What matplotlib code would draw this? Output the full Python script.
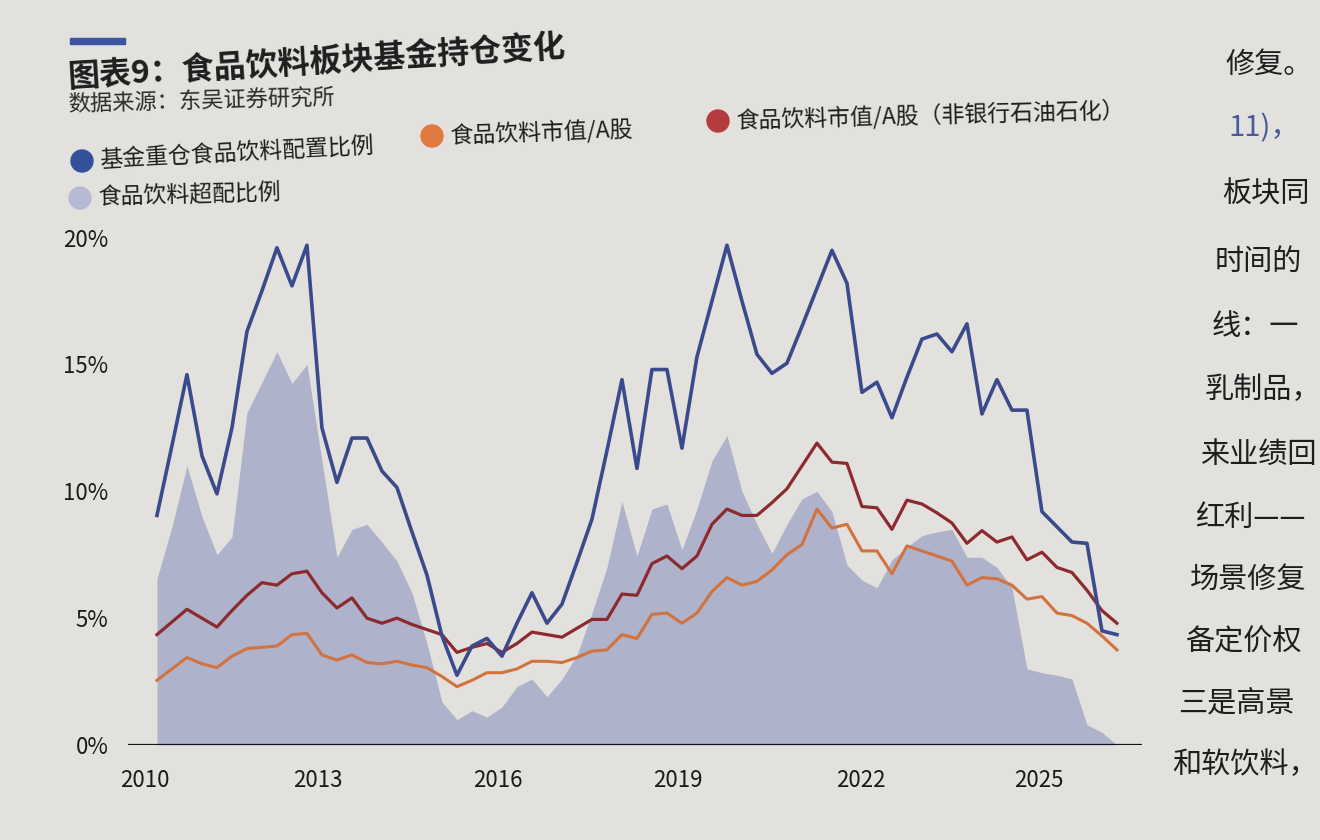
import numpy as np
import matplotlib.pyplot as plt
from matplotlib.patches import Circle, Rectangle

plt.rcParams['font.family'] = ['Noto Sans CJK SC', 'DejaVu Sans']

# quarterly observations (index 0 = first quarter shown)
fund_weight = [9.05, 11.8, 14.6, 11.4, 9.9, 12.5, 16.3, 17.9, 19.6, 18.1,
               19.7, 12.5, 10.35, 12.1, 12.1, 10.8, 10.15, 8.4, 6.7, 4.3,
               2.75, 3.9, 4.2, 3.5, 4.8, 6.0, 4.8, 5.55, 7.2, 8.9,
               11.6, 14.4, 10.9, 14.8, 14.8, 11.7, 15.3, 17.5, 19.7, 17.5,
               15.4, 14.65, 15.05, 16.5, 18.0, 19.5, 18.2, 13.9, 14.3, 12.9,
               14.5, 16.0, 16.2, 15.5, 16.6, 13.05, 14.4, 13.2, 13.2, 9.2,
               8.6, 8.0, 7.95, 4.5, 4.35]
mktcap_a = [2.55, 3.0, 3.45, 3.2, 3.05, 3.5, 3.8, 3.85, 3.9, 4.35,
            4.4, 3.55, 3.35, 3.55, 3.25, 3.2, 3.3, 3.15, 3.05, 2.7,
            2.3, 2.55, 2.85, 2.85, 3.0, 3.3, 3.3, 3.25, 3.45, 3.7,
            3.75, 4.35, 4.2, 5.15, 5.2, 4.8, 5.2, 6.05, 6.6, 6.3,
            6.45, 6.9, 7.5, 7.9, 9.3, 8.55, 8.7, 7.65, 7.65, 6.75,
            7.85, 7.65, 7.45, 7.25, 6.3, 6.6, 6.55, 6.3, 5.75, 5.85,
            5.2, 5.1, 4.8, 4.3, 3.75]
mktcap_ex = [4.35, 4.85, 5.35, 5.0, 4.65, 5.3, 5.9, 6.4, 6.3, 6.75,
             6.85, 6.0, 5.4, 5.8, 5.0, 4.8, 5.0, 4.75, 4.55, 4.35,
             3.65, 3.85, 4.0, 3.65, 4.0, 4.45, 4.35, 4.25, 4.6, 4.95,
             4.95, 5.95, 5.9, 7.15, 7.45, 6.95, 7.45, 8.7, 9.3, 9.05,
             9.05, 9.55, 10.1, 11.0, 11.9, 11.15, 11.1, 9.4, 9.35, 8.5,
             9.65, 9.5, 9.15, 8.75, 7.95, 8.45, 8.0, 8.2, 7.3, 7.6,
             7.0, 6.8, 6.1, 5.3, 4.8]
overweight = [6.55, 8.6, 11.0, 9.0, 7.5, 8.2, 13.1, 14.3, 15.5, 14.25,
              15.0, 11.2, 7.4, 8.5, 8.7, 8.0, 7.25, 6.0, 4.0, 1.7,
              1.0, 1.35, 1.1, 1.5, 2.3, 2.6, 1.9, 2.6, 3.55, 5.2,
              7.0, 9.6, 7.45, 9.3, 9.5, 7.7, 9.3, 11.2, 12.2, 10.0,
              8.7, 7.55, 8.7, 9.7, 10.0, 9.2, 7.1, 6.5, 6.2, 7.3,
              7.8, 8.25, 8.4, 8.5, 7.4, 7.4, 7.0, 6.2, 3.0, 2.85,
              2.75, 2.6, 0.8, 0.5, 0.0]

year_labels = ['2010', '2013', '2016', '2019', '2022', '2025']
year_pos = [-0.8, 10.7, 22.7, 34.7, 46.9, 58.8]
y_ticks = [0, 5, 10, 15, 20]

series_names = ['基金重仓食品饮料配置比例', '食品饮料市值/A股',
                '食品饮料市值/A股（非银行石油石化）', '食品饮料超配比例']

paper = '#e3e1dd'
c_blue = '#3b4a8c'
c_orange = '#d2733f'
c_red = '#8c2a2e'
c_fill = '#afb2cb'

fig = plt.figure(figsize=(13.2, 8.4), dpi=100)
fig.patch.set_facecolor(paper)
ax = fig.add_axes([128 / 1320, 1 - 745 / 840, (1142 - 128) / 1320, 515 / 840])
ax.set_facecolor('none')

x = np.arange(len(fund_weight))
ax.fill_between(x, overweight, 0, color=c_fill, lw=0, zorder=1)
ax.plot(x, mktcap_a, color=c_orange, lw=2.2, zorder=3)
ax.plot(x, mktcap_ex, color=c_red, lw=2.3, zorder=3)
ax.plot(x, fund_weight, color=c_blue, lw=2.6, zorder=4)
ax.axhline(0, color='#151515', lw=1.6, zorder=5)

ax.set_xlim(-1.93, 65.67)
ax.set_ylim(0, 20.3)
ax.set_xticks(year_pos)
ax.set_xticklabels(year_labels)
ax.set_yticks(y_ticks)
ax.set_yticklabels([f'{v}%' for v in y_ticks])
ax.tick_params(length=0, labelsize=16, colors='#1a1a1a')
ax.tick_params(axis='x', pad=17)
ax.tick_params(axis='y', pad=14)
for s in ax.spines.values():
    s.set_visible(False)

# header: accent bar, title, source
fig.patches.append(Rectangle((70 / 1320, 1 - 44 / 840), 55 / 1320, 6 / 840,
                             transform=fig.transFigure, color='#3d55a0'))
fig.text(68 / 1320, 1 - 78 / 840, '图表9：食品饮料板块基金持仓变化', fontsize=23,
         fontweight='bold', color='#1e1e1e', va='center', rotation=3.5,
         rotation_mode='anchor')
fig.text(68 / 1320, 1 - 105 / 840, '数据来源：东吴证券研究所', fontsize=16,
         color='#2a2a2a', va='center', rotation=1.5, rotation_mode='anchor')

# legend
legend_items = [
    (82, 161, 100, series_names[0], '#35509a', 3.0),
    (432, 136, 450, series_names[1], '#e0783f', 2.0),
    (718, 121, 736, series_names[2], '#b43c3c', 1.5),
    (80, 198, 98, series_names[3], '#b7b9d5', 1.5),
]
for cx, cy, tx, name, col, rot in legend_items:
    fig.patches.append(Circle((cx, 840 - cy), 11, transform=None, color=col))
    fig.text(tx / 1320, 1 - cy / 840, name, fontsize=16.5, color='#1e1e1e',
             va='center', rotation=rot, rotation_mode='anchor')

# surrounding page text
page_lines = [
    ('修复。', 1225, 65, '#1e1e1e'),
    ('11)，', 1228, 128, '#4a5a9a'),
    ('板块同', 1222, 195, '#1e1e1e'),
    ('时间的', 1215, 262, '#1e1e1e'),
    ('线：一', 1212, 327, '#1e1e1e'),
    ('乳制品，', 1205, 390, '#1e1e1e'),
    ('来业绩回', 1200, 455, '#1e1e1e'),
    ('红利——', 1195, 518, '#1e1e1e'),
    ('场景修复', 1190, 580, '#1e1e1e'),
    ('备定价权', 1185, 642, '#1e1e1e'),
    ('三是高景', 1178, 703, '#1e1e1e'),
    ('和软饮料，', 1172, 765, '#1e1e1e'),
]
for txt, px, py, col in page_lines:
    fig.text(px / 1320, 1 - py / 840, txt, fontsize=21, color=col, va='center')

fig.savefig('out.png', dpi=100, facecolor=paper)
